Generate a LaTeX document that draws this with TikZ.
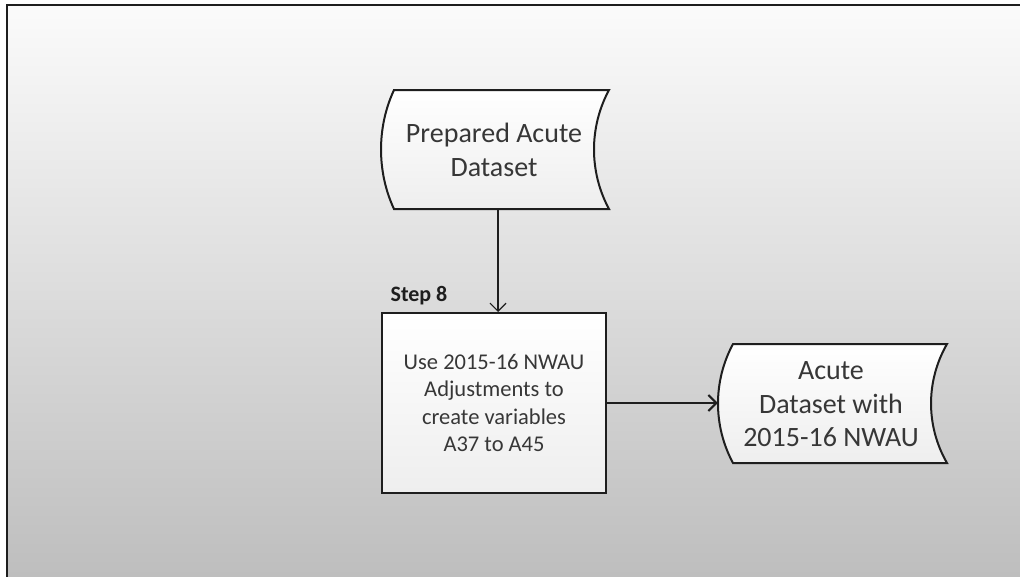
\documentclass[tikz,border=0pt]{standalone}
\usepackage{fontspec}
\setmainfont{Carlito}
\usetikzlibrary{arrows.meta}
\definecolor{bgtop}{RGB}{251,251,251}
\definecolor{bgbot}{RGB}{190,190,190}
\definecolor{txt}{RGB}{55,55,55}
\definecolor{edge}{RGB}{30,30,30}
\definecolor{fillbot}{RGB}{238,238,238}
\begin{document}
\begin{tikzpicture}[x=1pt,y=-1pt,
  outline/.style={draw=edge, line width=2pt, top color=white, bottom color=fillbot},
  lbltext/.style={text=txt, align=center, inner sep=0pt},
  arr/.style={draw=edge, -{Straight Barb[length=8pt,width=16pt]}},
]
\useasboundingbox (0,0) rectangle (1020,576);
\fill[white] (0,0) rectangle (1020,576);
\shade[top color=bgtop, bottom color=bgbot] (7,5) rectangle (1020,576);
\draw[edge, line width=2.5pt] (7,577) -- (7,5) -- (1021,5);

% stored-data outlines
\path[outline] (394,90) -- (609,90) .. controls (589,127) and (589,172) .. (609,209)
  -- (394,209) .. controls (376.7,172) and (376.7,127) .. (394,90) -- cycle;
\path[outline] (733,344) -- (947,344) .. controls (925.7,381) and (925.7,426) .. (947,463)
  -- (733,463) .. controls (713,426) and (713,381) .. (733,344) -- cycle;

\node[lbltext, font=\fontsize{28}{34}\selectfont, minimum height=119pt] (src) at (494,150) {Prepared Acute\\Dataset};
\node[lbltext, draw=edge, line width=2pt, top color=white, bottom color=fillbot,
      minimum width=224pt, minimum height=180pt, font=\fontsize{22.5}{27.5}\selectfont] (step) at (494,403)
      {Use 2015-16 NWAU\\Adjustments to\\create variables\\A37 to A45};
\node[font=\bfseries\fontsize{22}{26}\selectfont, text=edge, inner sep=0pt] (lbl) at (419,296) {Step 8};
\node[lbltext, font=\fontsize{28}{33.5}\selectfont, minimum width=226pt, minimum height=119pt] (tgt) at (831,404.5)
      {Acute\\Dataset with\\2015-16 NWAU};

\coordinate (ax) at (498,300);
\draw[arr, line width=1.2pt] (src.south -| ax) -- (step.north -| ax);
\draw[arr, line width=2pt] (step.east) -- (step.east -| tgt.west);
\end{tikzpicture}
\end{document}
